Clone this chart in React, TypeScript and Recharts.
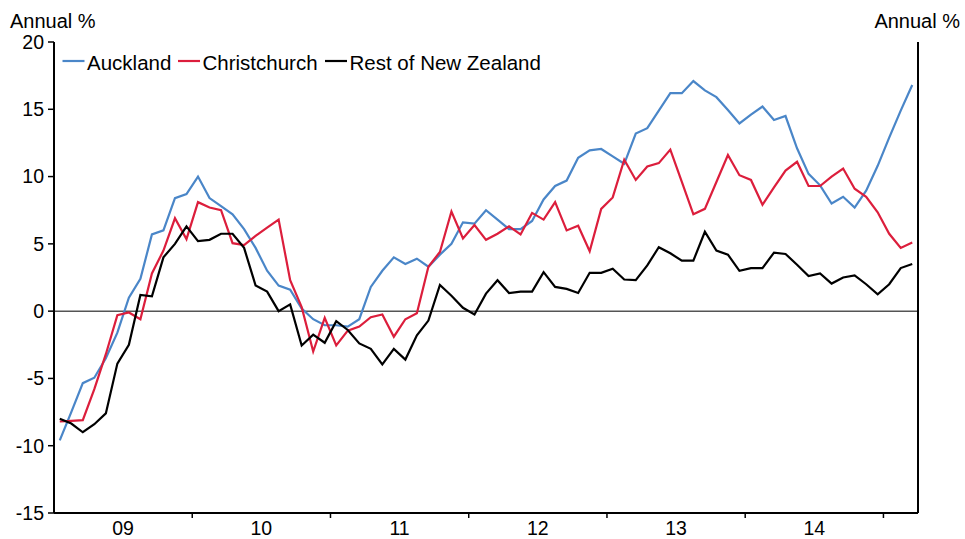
import { Line, LineChart, ReferenceLine, XAxis, YAxis } from 'recharts'

// monthly, Jan 2009 – Mar 2015 (annual % change)
const yearLabels = ['09', '10', '11', '12', '13', '14']
const yTicks = [-15, -10, -5, 0, 5, 10, 15, 20]

const auckland = [
  -9.6, -7.5, -5.35, -4.95, -3.5, -1.6, 1.0, 2.4, 5.7, 6.0, 8.4, 8.7,
  10.0, 8.4, 7.8, 7.2, 6.1, 4.7, 3.0, 1.9, 1.6, 0.2, -0.6, -1.05,
  -1.05, -1.15, -0.6, 1.8, 3.0, 4.0, 3.5, 3.9, 3.3, 4.2, 5.0, 6.6,
  6.5, 7.5, 6.8, 6.1, 6.1, 6.7, 8.3, 9.3, 9.7, 11.4, 11.95, 12.05,
  11.5, 10.95, 13.2, 13.6, 14.9, 16.2, 16.2, 17.1, 16.4, 15.9, 14.95, 13.95,
  14.6, 15.2, 14.2, 14.5, 12.1, 10.2, 9.35, 8.0, 8.5, 7.7, 8.95, 10.8,
  12.9, 14.9, 16.8,
]

const christchurch = [
  -8.2, -8.15, -8.1, -5.8, -3.2, -0.3, -0.1, -0.6, 2.8, 4.5, 6.9, 5.35,
  8.1, 7.7, 7.5, 5.05, 4.9, 5.6, 6.2, 6.8, 2.3, 0.3, -3.0, -0.5,
  -2.55, -1.45, -1.15, -0.45, -0.25, -1.9, -0.6, -0.15, 3.3, 4.4, 7.4, 5.4,
  6.4, 5.3, 5.75, 6.3, 5.7, 7.3, 6.8, 8.1, 6.0, 6.35, 4.45, 7.6,
  8.45, 11.25, 9.75, 10.75, 11.0, 12.0, 9.6, 7.2, 7.6, 9.6, 11.6, 10.1,
  9.75, 7.9, 9.2, 10.45, 11.1, 9.3, 9.3, 10.0, 10.6, 9.1, 8.5, 7.35,
  5.75, 4.7, 5.1,
]

const restOfNz = [
  -8.0, -8.35, -9.0, -8.4, -7.6, -3.9, -2.5, 1.2, 1.1, 4.0, 5.0, 6.3,
  5.2, 5.3, 5.75, 5.75, 4.7, 1.9, 1.45, 0.0, 0.5, -2.55, -1.75, -2.35,
  -0.75, -1.4, -2.4, -2.8, -3.95, -2.8, -3.6, -1.8, -0.7, 1.95, 1.15, 0.25,
  -0.25, 1.3, 2.3, 1.35, 1.45, 1.45, 2.9, 1.8, 1.65, 1.35, 2.85, 2.85,
  3.15, 2.35, 2.3, 3.4, 4.75, 4.3, 3.75, 3.75, 5.9, 4.5, 4.2, 3.0,
  3.2, 3.2, 4.35, 4.25, 3.45, 2.6, 2.8, 2.05, 2.5, 2.65, 2.0, 1.25,
  2.0, 3.2, 3.5,
]

const series = [
  { key: 'auckland', name: 'Auckland', color: '#4a86c8' },
  { key: 'christchurch', name: 'Christchurch', color: '#dc1e3c' },
  { key: 'rest', name: 'Rest of New Zealand', color: '#000000' },
]

// month index, plotted mid-month
const data = auckland.map((v, i) => ({
  t: i + 0.5,
  auckland: v,
  christchurch: christchurch[i],
  rest: restOfNz[i],
}))

const xTicks = [6, 12, 18, 24, 30, 36, 42, 48, 54, 60, 66, 72]

const font = 'Arial, "Liberation Sans", sans-serif'

function YearTick({ x, y, payload }: any) {
  const v = payload.value
  if (v % 12 === 0) {
    return <line x1={x} x2={x} y1={y - 5} y2={y} stroke="#000" strokeWidth={1.5} />
  }
  return (
    <text x={x} y={y + 17} textAnchor="middle" fontSize={19.5} fill="#000" fontFamily={font}>
      {yearLabels[(v - 6) / 12]}
    </text>
  )
}

export default function App() {
  const legendX = [62.5, 178, 325]
  return (
    <div style={{ position: 'absolute', left: 0, top: 0, width: 965, height: 539, background: '#fff', fontFamily: font }}>
      <LineChart width={965} height={539} data={data} margin={{ top: 42, right: 0, left: 0, bottom: 0 }}>
        <XAxis
          dataKey="t"
          type="number"
          domain={[0, 75]}
          ticks={xTicks}
          interval={0}
          height={26}
          tick={<YearTick />}
          tickLine={false}
          tickSize={5}
          tickMargin={0}
          axisLine={{ stroke: '#000', strokeWidth: 2 }}
        />
        <YAxis
          yAxisId="l"
          domain={[-15, 20]}
          ticks={yTicks}
          interval={0}
          width={54}
          tickSize={6}
          tickMargin={4}
          tick={{ fontSize: 19.5, fill: '#000', fontFamily: font }}
          tickLine={{ stroke: '#000', strokeWidth: 1.5 }}
          axisLine={{ stroke: '#000', strokeWidth: 2 }}
        />
        <YAxis
          yAxisId="r"
          orientation="right"
          domain={[-15, 20]}
          ticks={yTicks}
          interval={0}
          width={47}
          tickSize={6}
          tickMargin={2}
          tick={{ fontSize: 19.5, fill: '#000', fontFamily: font }}
          tickLine={{ stroke: '#000', strokeWidth: 1.5 }}
          axisLine={{ stroke: '#000', strokeWidth: 2 }}
        />
        <ReferenceLine yAxisId="l" y={0} stroke="#555" strokeWidth={1.5} />
        {series.map((s) => (
          <Line
            key={s.key}
            yAxisId="l"
            type="linear"
            dataKey={s.key}
            name={s.name}
            stroke={s.color}
            strokeWidth={2.2}
            dot={false}
            isAnimationActive={false}
          />
        ))}
      </LineChart>
      <svg width={965} height={539} style={{ position: 'absolute', left: 0, top: 0, pointerEvents: 'none' }}>
        <text x={10} y={27.5} fontSize={20} fill="#000" fontFamily={font}>Annual %</text>
        <text x={960} y={27.5} fontSize={20} fill="#000" textAnchor="end" fontFamily={font}>Annual %</text>
        {series.map((s, i) => (
          <g key={s.key}>
            <line x1={legendX[i]} x2={legendX[i] + 22} y1={61} y2={61} stroke={s.color} strokeWidth={2.2} />
            <text x={legendX[i] + 24.5} y={70} fontSize={20.5} fill="#000" fontFamily={font}>{s.name}</text>
          </g>
        ))}
      </svg>
    </div>
  )
}
